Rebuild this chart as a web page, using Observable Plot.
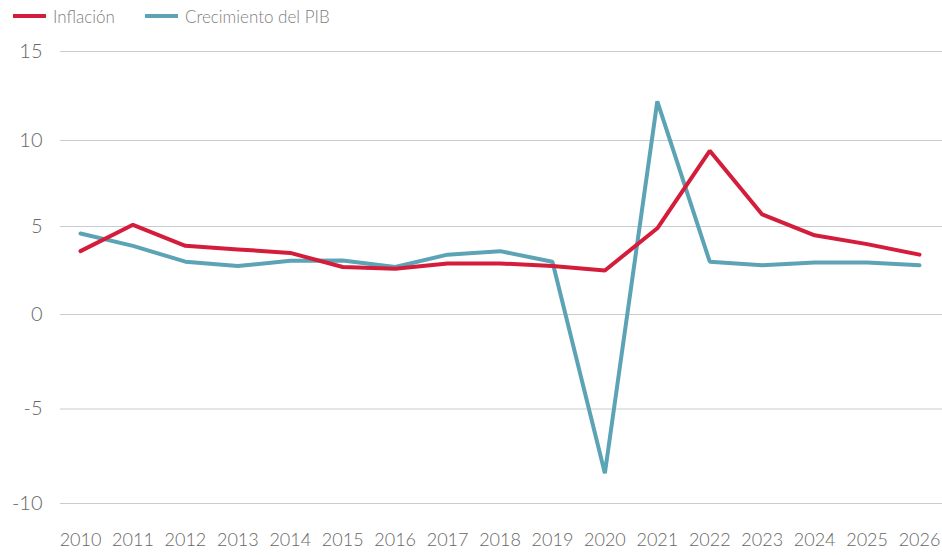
<!DOCTYPE html>
<html>
<head>
<meta charset="utf-8">
<script src="https://cdn.jsdelivr.net/npm/d3@7"></script>
<script src="https://cdn.jsdelivr.net/npm/@observablehq/plot@0.6"></script>
<style>
  html, body { margin: 0; padding: 0; background: #fff; }
  body { width: 942px; height: 555px; overflow: hidden; font-family: Lato, "Open Sans", sans-serif; }
  #legend { height: 32px; display: flex; align-items: center; font-size: 17px; font-weight: 300; color: #808080; }
  .item { display: flex; align-items: center; }
  .sw { width: 33px; height: 4px; margin-right: 7px; }
</style>
</head>
<body>
<div id="legend"></div>
<div id="chart"></div>
<script>
const years = [2010, 2011, 2012, 2013, 2014, 2015, 2016, 2017, 2018, 2019, 2020, 2021, 2022, 2023, 2024, 2025, 2026];
const inflacion = [3.6, 5.1, 3.9, 3.7, 3.5, 2.7, 2.6, 2.9, 2.9, 2.75, 2.5, 4.9, 9.4, 5.7, 4.5, 4.0, 3.4];
const pib = [4.6, 3.9, 3.0, 2.75, 3.05, 3.07, 2.7, 3.4, 3.6, 3.0, -8.4, 12.2, 3.0, 2.8, 2.95, 2.95, 2.8];
const seriesNames = ["Inflación", "Crecimiento del PIB"];
const seriesColors = ["#d41d3b", "#5ba3b5"];
const yTicks = [-10, -5, 0, 5, 10, 15];

const legend = document.getElementById("legend");
seriesNames.forEach((n, i) => {
  const it = document.createElement("div");
  it.className = "item";
  it.style.marginLeft = i === 0 ? "13px" : "30px";
  const sw = document.createElement("div");
  sw.className = "sw";
  sw.style.background = seriesColors[i];
  const t = document.createElement("span");
  t.textContent = n;
  it.appendChild(sw); it.appendChild(t);
  legend.appendChild(it);
});

const data = [];
years.forEach((y, i) => {
  data.push({year: y, value: inflacion[i], serie: seriesNames[0]});
  data.push({year: y, value: pib[i], serie: seriesNames[1]});
});

const chart = Plot.plot({
  width: 942,
  height: 523,
  marginLeft: 60,
  marginRight: 0,
  marginTop: 19,
  marginBottom: 52,
  style: {fontFamily: "Lato, 'Open Sans', sans-serif", fontWeight: 300, color: "#666", background: "#fff"},
  x: {type: "linear", domain: [2010, 2026], insetLeft: 20, insetRight: 23},
  y: {type: "linear", domain: yTicks, range: [471, 376.5, 282, 194, 108, 19]},
  color: {domain: seriesNames, range: seriesColors},
  marks: [
    Plot.ruleY(yTicks, {stroke: "#c7ccd2", strokeWidth: 1.2}),
    Plot.axisY({ticks: yTicks, tickSize: 0, tickPadding: 18, fontSize: 20, label: null, tickFormat: d => String(d)}),
    Plot.axisX({ticks: years, tickSize: 0, tickPadding: 30, fontSize: 18, label: null, tickFormat: d => String(d)}),
    Plot.line(data.filter(d => d.serie === seriesNames[1]), {x: "year", y: "value", stroke: "serie", strokeWidth: 4, strokeLinejoin: "miter"}),
    Plot.line(data.filter(d => d.serie === seriesNames[0]), {x: "year", y: "value", stroke: "serie", strokeWidth: 4, strokeLinejoin: "miter"})
  ]
});
document.getElementById("chart").appendChild(chart);
</script>
</body>
</html>
